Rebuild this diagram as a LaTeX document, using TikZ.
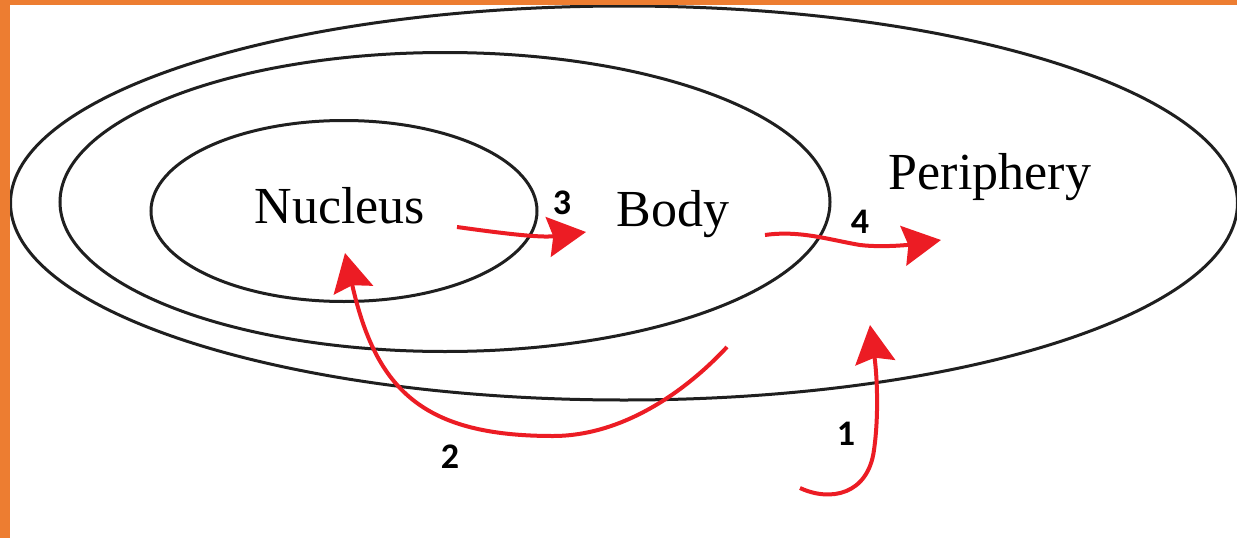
\documentclass[tikz,border=0pt]{standalone}
\usepackage{fontspec}
\setmainfont{Liberation Serif}
\newfontfamily\numfont{Carlito}
\usetikzlibrary{shapes.geometric,arrows.meta}
\definecolor{frameorange}{HTML}{ED7D31}
\definecolor{arrowred}{HTML}{EC1C24}
\tikzset{
  ring/.style={ellipse, draw=black!88, line width=3pt, inner sep=0pt, fill=none},
  label/.style={font=\fontsize{52}{60}\selectfont, anchor=base, inner sep=0pt},
  num/.style={font=\numfont\bfseries\fontsize{36}{40}\selectfont, inner sep=0pt, text=black},
  flow/.style={draw=arrowred, line width=4pt, -{Stealth[length=38pt, width=40pt, inset=5pt]}},
}
\begin{document}
\begin{tikzpicture}[x=1pt, y=-1pt]
\useasboundingbox (0,0) rectangle (1237,538);
\fill[white] (0,0) rectangle (1237,538);
\begin{scope}
\clip (0,0) rectangle (1237,538);
% rings
\node[ring, minimum width=1227pt, minimum height=394pt] (periphery) at (624,203) {};
\node[ring, minimum width=770pt, minimum height=299pt] (body) at (445,202) {};
\node[ring, minimum width=386pt, minimum height=181pt] (nucleus) at (344,211) {};
% labels
\node[label] (tnuc) at (340,223) {Nucleus};
\node[label] (tbody) at (673,226) {Body};
\node[label] (tper) at (990,189) {Periphery};
% numbers
\node[num] (n3) at (562,203) {3};
\node[num] (n4) at (860,222) {4};
\node[num] (n2) at (450,457) {2};
\node[num] (n1) at (846,434) {1};
% arrow end points
\coordinate (a3s) at (457,227);
\coordinate (a3e) at (586,232);
\coordinate (a4s) at (765,235);
\coordinate (a4e) at (941,240);
\coordinate (a2s) at (727,347);
\coordinate (a2e) at (345,253);
\coordinate (a1s) at (800,488);
\coordinate (a1e) at (870,325);
% arrows
\draw[flow] (a3s) .. controls (500,233) and (540,238) .. (a3e);
\draw[flow] (a4s) .. controls (800,230) and (830,240) .. (860,245) .. controls (885,248) and (915,244) .. (a4e);
\draw[flow] (a2s) .. controls (686,391) and (623,436) .. (553,436) .. controls (423,436) and (376,390) .. (a2e);
\draw[flow] (a1s) .. controls (830,502) and (868,495) .. (874,450) .. controls (879,415) and (877,375) .. (a1e);
\end{scope}
% orange frame
\fill[frameorange] (0,0) rectangle (1237,5);
\fill[frameorange] (0,0) rectangle (10,538);
\end{tikzpicture}
\end{document}
